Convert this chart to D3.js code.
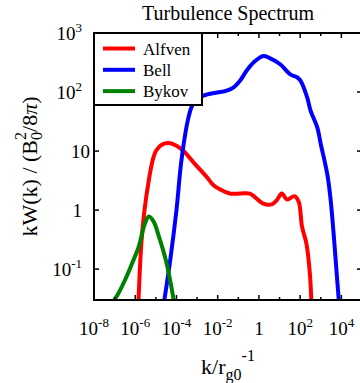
<!DOCTYPE html>
<html>
<head>
<meta charset="utf-8">
<script src="https://cdn.jsdelivr.net/npm/d3@7"></script>
<style>
  body { margin: 0; background: #fff; }
  svg text { font-family: "Times New Roman", "Liberation Serif", Times, "DejaVu Serif", serif; fill: #000; }
</style>
</head>
<body>
<script>
var width = 360,
  height = 383;

var plotLeft = 94, plotRight = 362, plotTop = 33, plotBottom = 300;

// values, as log10(k) and log10(kW)
var alfvenLogK = [-5.85, -5.7, -5.55, -5.33, -5.15, -4.98, -4.7, -4.36, -4.0, -3.68, -3.1, -2.53, -2.2, -1.88, -1.42, -0.9, -0.44, 0.21, 0.62, 0.85, 1.11, 1.36, 1.72, 1.93, 2.09, 2.3, 2.47, 2.56];
var alfvenLogW = [-1.6, -0.55, 0, 0.53, 0.85, 1.01, 1.11, 1.135, 1.09, 1.01, 0.78, 0.56, 0.42, 0.35, 0.28, 0.28, 0.28, 0.11, 0.096, 0.16, 0.28, 0.18, 0.236, 0.14, -0.28, -0.56, -1.07, -1.7];

var bellLogK = [-4.62, -4.3, -4.0, -3.76, -3.43, -3.2, -2.89, -2.5, -2.24, -1.6, -1.26, -0.9, -0.6, -0.2, 0.21, 0.5, 1.03, 1.52, 1.85, 2.0, 2.34, 2.5, 2.83, 3.0, 3.32, 3.48, 3.81, 3.9];
var bellLogW = [-1.6, -0.84, 0, 0.84, 1.55, 1.8, 1.91, 1.96, 1.98, 2.02, 2.07, 2.2, 2.36, 2.52, 2.61, 2.58, 2.47, 2.3, 2.25, 2.2, 1.91, 1.69, 1.4, 1.12, 0.6, 0.17, -1.24, -1.65];

var bykovLogK = [-7.15, -6.8, -6.49, -6.15, -5.83, -5.55, -5.34, -5.1, -4.85, -4.52, -4.3, -4.1];
var bykovLogW = [-1.6, -1.4, -1.18, -0.9, -0.62, -0.25, -0.11, -0.2, -0.45, -0.84, -1.2, -1.6];

var seriesNames = ["Alfven", "Bell", "Bykov"];
var seriesColors = ["#ff0000", "#0000ff", "#008000"];

var xTickExp = [-8, -7, -6, -5, -4, -3, -2, -1, 0, 1, 2, 3, 4, 5];
var xTickLabels = [["10", "-8"], ["10", "-6"], ["10", "-4"], ["10", "-2"], ["1", ""], ["10", "2"], ["10", "4"]];
var xLabelExp = [-8, -6, -4, -2, 0, 2, 4];

var yTickValues = [1000, 100, 10, 1, 0.1];
var yTickLabels = [["10", "3"], ["10", "2"], ["10", ""], ["1", ""], ["10", "-1"]];

var serif = "'Times New Roman', 'Liberation Serif', 'DejaVu Serif', serif";

var scaleX = d3.scaleLog()
                .domain([1e-8, 1e5])
                .range([plotLeft, plotRight]);

var scaleY = d3.scaleLog()
                .domain([0.03, 1000])
                .range([plotBottom, plotTop]);

function toPoints(lk, lw) {
  return lk.map(function(d, i) {
    return [Math.pow(10, d), Math.pow(10, lw[i])];
  });
}

var seriesData = [
  toPoints(alfvenLogK, alfvenLogW),
  toPoints(bellLogK, bellLogW),
  toPoints(bykovLogK, bykovLogW)
];

var svg = d3.select("body").append("svg")
              .attr("width", width)
              .attr("height", height)
              .attr("font-family", serif);

svg.append("defs").append("clipPath")
    .attr("id", "clip")
    .append("rect")
    .attr("x", plotLeft)
    .attr("y", plotTop)
    .attr("width", plotRight - plotLeft)
    .attr("height", plotBottom - plotTop);

// curves
var line = d3.line()
              .x(function(d) { return scaleX(d[0]); })
              .y(function(d) { return scaleY(d[1]); })
              .curve(d3.curveCatmullRom.alpha(0.5));

svg.append("g")
    .attr("clip-path", "url(#clip)")
    .selectAll("path")
    .data(seriesData)
    .enter()
    .append("path")
    .attr("d", line)
    .style("fill", "none")
    .style("stroke", function(d, i) { return seriesColors[i]; })
    .style("stroke-width", 4)
    .style("stroke-linejoin", "round");

// x ticks, bottom and top, pointing inward
var xt = svg.append("g");
xTickExp.forEach(function(e) {
  var x = scaleX(Math.pow(10, e));
  var len = (e % 2 === 0) ? 5 : 3;
  xt.append("line").attr("x1", x).attr("x2", x)
      .attr("y1", plotBottom).attr("y2", plotBottom - len)
      .style("stroke", "#000").style("stroke-width", 1.5);
  xt.append("line").attr("x1", x).attr("x2", x)
      .attr("y1", plotTop).attr("y2", plotTop + len)
      .style("stroke", "#000").style("stroke-width", 1.5);
});

// y ticks, left and right
yTickValues.forEach(function(v) {
  var y = scaleY(v);
  xt.append("line").attr("x1", plotLeft).attr("x2", plotLeft + 5)
      .attr("y1", y).attr("y2", y)
      .style("stroke", "#000").style("stroke-width", 1.5);
  xt.append("line").attr("x1", plotRight).attr("x2", plotRight - 5)
      .attr("y1", y).attr("y2", y)
      .style("stroke", "#000").style("stroke-width", 1.5);
});

// frame
svg.append("rect")
    .attr("x", plotLeft)
    .attr("y", plotTop)
    .attr("width", plotRight - plotLeft)
    .attr("height", plotBottom - plotTop)
    .style("fill", "none")
    .style("stroke", "#000")
    .style("stroke-width", 2);

// x tick labels
xLabelExp.forEach(function(e, i) {
  var t = svg.append("text")
              .attr("x", scaleX(Math.pow(10, e)))
              .attr("y", 335)
              .attr("text-anchor", "middle")
              .style("font-size", "19px");
  t.append("tspan").text(xTickLabels[i][0]);
  if (xTickLabels[i][1]) {
    t.append("tspan").attr("dy", -8).style("font-size", "13px").text(xTickLabels[i][1]);
  }
});

// y tick labels
yTickValues.forEach(function(v, i) {
  var t = svg.append("text")
              .attr("x", yTickLabels[i][0] === "10" && !yTickLabels[i][1] ? 90 : 82)
              .attr("y", scaleY(v) + 6.5)
              .attr("text-anchor", "end")
              .style("font-size", "19px");
  t.append("tspan").text(yTickLabels[i][0]);
  if (yTickLabels[i][1]) {
    t.append("tspan").attr("dy", -8).style("font-size", "13px").text(yTickLabels[i][1]);
  }
});

// title
svg.append("text")
    .attr("x", (plotLeft + plotRight) / 2)
    .attr("y", 20)
    .attr("text-anchor", "middle")
    .style("font-size", "20px")
    .text("Turbulence Spectrum");

// x axis label
var xl = svg.append("text")
            .attr("x", (plotLeft + plotRight) / 2)
            .attr("y", 374)
            .attr("text-anchor", "middle")
            .style("font-size", "22px");
xl.append("tspan").text("k/r");
xl.append("tspan").attr("dy", 6).style("font-size", "16px").text("g0");
xl.append("tspan").attr("dy", -19).style("font-size", "16px").text("-1");

// y axis label
var yl = svg.append("text")
            .attr("transform", "translate(37," + ((plotTop + plotBottom) / 2) + ") rotate(-90)")
            .attr("text-anchor", "middle")
            .style("font-size", "22px");
yl.append("tspan").text("kW(k) / (B");
yl.append("tspan").attr("dy", 5).style("font-size", "16px").text("0");
yl.append("tspan").attr("dy", -16).attr("dx", -8).style("font-size", "16px").text("2");
yl.append("tspan").attr("dy", 11).text("/8");
yl.append("tspan").style("font-style", "italic").text("\u03c0");
yl.append("tspan").text(")");

// legend
var legend = svg.append("g");
legend.append("rect")
    .attr("x", plotLeft)
    .attr("y", plotTop)
    .attr("width", 108)
    .attr("height", 72)
    .style("fill", "#fff")
    .style("stroke", "#000")
    .style("stroke-width", 2);

seriesNames.forEach(function(name, i) {
  var y = 48.5 + i * 21.3;
  legend.append("line")
      .attr("x1", 103).attr("x2", 135)
      .attr("y1", y).attr("y2", y)
      .style("stroke", seriesColors[i])
      .style("stroke-width", 4);
  legend.append("text")
      .attr("x", 143)
      .attr("y", y + 6)
      .style("font-size", "17px")
      .text(name);
});
</script>
</body>
</html>
